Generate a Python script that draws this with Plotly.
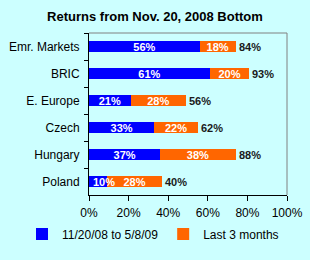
import plotly.graph_objects as go

categories = ["Emr. Markets", "BRIC", "E. Europe", "Czech", "Hungary", "Poland"]
since_bottom = [56, 61, 21, 33, 36, 9]
last_3m = [18, 20, 28, 22, 38, 28]
since_labels = ["56%", "61%", "21%", "33%", "37%", "10%"]
last_labels = ["18%", "20%", "28%", "22%", "38%", "28%"]
total_labels = ["84%", "93%", "56%", "62%", "88%", "40%"]
x_ticks = [0, 20, 40, 60, 80, 100]

FONT = "Liberation Sans, Arial, sans-serif"
BG = "#CCFFFF"
label_font = dict(family=FONT, size=11, color="white", weight="bold")

# narrow bars: label drawn as annotation so it keeps full size and overflows the bar
narrow = [v < 12 for v in since_bottom]
blue_pos = ["none" if n else "inside" for n in narrow]

fig = go.Figure()
fig.add_trace(go.Bar(
    y=categories, x=since_bottom, orientation="h", name="11/20/08 to 5/8/09",
    marker=dict(color="#0000FF", line=dict(width=0)),
    text=since_labels, textposition=blue_pos, insidetextanchor="middle", textangle=0,
    textfont=label_font, constraintext="none",
))
fig.add_trace(go.Bar(
    y=categories, x=last_3m, orientation="h", name="Last 3 months",
    marker=dict(color="#FF6600", line=dict(width=0)),
    text=last_labels, textposition="inside", insidetextanchor="middle", textangle=0,
    textfont=label_font, constraintext="none",
))

for c, v, t, n in zip(categories, since_bottom, since_labels, narrow):
    if n:
        fig.add_annotation(x=0, y=c, text=t, showarrow=False, xanchor="left", xshift=2,
                           font=label_font)

for c, a, b, t in zip(categories, since_bottom, last_3m, total_labels):
    fig.add_annotation(x=a + b, y=c, text=t, showarrow=False, xanchor="left",
                       xshift=1, font=dict(family=FONT, size=11, color="#1a1a1a", weight="bold"))

fig.add_shape(type="line", xref="paper", yref="paper", x0=0, x1=1, y0=1, y1=1,
              line=dict(color="#808080", width=1))
fig.add_shape(type="line", xref="paper", yref="paper", x0=1, x1=1, y0=0, y1=1,
              line=dict(color="#808080", width=1))

fig.update_layout(
    width=310, height=260,
    paper_bgcolor=BG, plot_bgcolor=BG,
    margin=dict(l=89, r=23, t=33, b=65, autoexpand=False),
    barmode="stack", bargap=0.6,
    title=dict(text="<b>Returns from Nov. 20, 2008 Bottom</b>", x=0.5, xanchor="center",
               y=1 - 16 / 260, yanchor="middle",
               font=dict(family=FONT, size=13, color="#000000")),
    xaxis=dict(range=[0, 100], tickvals=x_ticks, ticktext=[f"{v}%" for v in x_ticks],
               showgrid=False, zeroline=False, showline=True, linecolor="black", linewidth=1,
               ticks="outside", ticklen=5, tickcolor="black", ticklabelstandoff=2,
               tickfont=dict(family=FONT, size=12, color="black")),
    yaxis=dict(autorange="reversed", showgrid=False, showline=True, linecolor="black",
               linewidth=1, ticks="outside", ticklen=4, tickcolor="black", tickson="boundaries",
               ticklabelstandoff=6,
               tickfont=dict(family=FONT, size=12, color="black")),
    legend=dict(orientation="h", x=(22 - 89) / 198, xanchor="left", y=-0.24,
                yanchor="middle",
                font=dict(family=FONT, size=12, color="black"), bgcolor="rgba(0,0,0,0)",
                itemwidth=30, traceorder="normal"),
    showlegend=True,
)
fig.write_html("out.html")
